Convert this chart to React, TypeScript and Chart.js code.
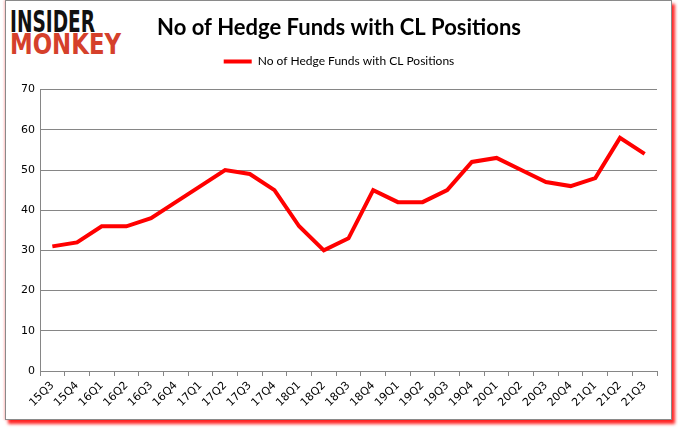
import React, { useEffect, useRef } from "react";
import { Chart, registerables } from "chart.js";

Chart.register(...registerables);

const categories = [
  "15Q3", "15Q4", "16Q1", "16Q2", "16Q3", "16Q4", "17Q1", "17Q2", "17Q3", "17Q4",
  "18Q1", "18Q2", "18Q3", "18Q4", "19Q1", "19Q2", "19Q3", "19Q4", "20Q1", "20Q2",
  "20Q3", "20Q4", "21Q1", "21Q2", "21Q3",
];
const hedgeFunds = [31, 32, 36, 36, 38, 42, 46, 50, 49, 45, 36, 30, 33, 45, 42, 42, 45, 52, 53, 50, 47, 46, 48, 58, 54];
const yTicks = [0, 10, 20, 30, 40, 50, 60, 70];
const seriesName = "No of Hedge Funds with CL Positions";
const titleText = "No of Hedge Funds with CL Positions";

export default function App() {
  const canvasRef = useRef<HTMLCanvasElement | null>(null);

  useEffect(() => {
    document.body.style.margin = "0";
    const ctx = canvasRef.current!.getContext("2d")!;
    const chart = new Chart(ctx, {
      type: "line",
      data: {
        labels: categories,
        datasets: [
          {
            label: seriesName,
            data: hedgeFunds,
            borderColor: "#ff0000",
            backgroundColor: "#ff0000",
            borderWidth: 4,
            pointRadius: 0,
            tension: 0,
            borderJoinStyle: "miter",
          },
        ],
      },
      options: {
        animation: false,
        responsive: false,
        devicePixelRatio: 1,
        layout: { padding: { left: 21, right: 21, top: 0, bottom: 0 } },
        plugins: {
          title: {
            display: true,
            text: titleText,
            color: "#000000",
            font: { family: "Lato", size: 22, weight: "bold" },
            padding: { top: 15, bottom: 6 },
          },
          subtitle: {
            display: true,
            text: " ",
            position: "top",
            weight: 500,
            font: { size: 1 },
            padding: { top: 11, bottom: 0 },
          } as any,
          legend: {
            display: true,
            labels: {
              usePointStyle: true,
              pointStyle: "line",
              pointStyleWidth: 28,
              color: "#000000",
              font: { family: "Lato", size: 12 },
              boxHeight: 12,
              padding: 8,
            },
          },
          tooltip: { enabled: false },
        },
        scales: {
          x: {
            offset: true,
            afterFit: (s: any) => {
              s.height = 60;
            },
            grid: {
              offset: true,
              drawOnChartArea: false,
              drawTicks: true,
              tickLength: 5,
              color: "#868686",
            },
            border: { color: "#868686", width: 1 },
            ticks: {
              color: "#000000",
              font: { family: "DejaVu Sans", size: 11 },
              minRotation: 45,
              maxRotation: 45,
              autoSkip: false,
              padding: 3,
            },
          },
          y: {
            min: 0,
            max: 70,
            afterFit: (s: any) => {
              s.width = 19;
            },
            afterBuildTicks: (s: any) => {
              s.ticks = yTicks.map((v) => ({ value: v }));
            },
            grid: {
              drawTicks: false,
              color: "#868686",
              lineWidth: 1,
            },
            border: { color: "#868686", width: 1 },
            ticks: {
              color: "#000000",
              font: { family: "DejaVu Sans", size: 11 },
              padding: 5,
            },
          },
        },
      },
    });
    return () => chart.destroy();
  }, []);

  return (
    <div style={{ position: "relative", width: 678, height: 431, background: "#ffffff", overflow: "hidden" }}>
      <div
        style={{
          position: "absolute",
          left: 5,
          top: 0,
          width: 665,
          height: 418,
          border: "1px solid #8a8a8a",
          boxShadow: "3px 4px 3px rgba(255,0,0,0.85), -1px 0 2px rgba(255,0,0,0.25)",
          background: "#ffffff",
        }}
      />
      <svg width={140} height={60} style={{ position: "absolute", left: 0, top: 0 }}>
        <text
          x={10}
          y={32}
          textLength={85}
          lengthAdjust="spacingAndGlyphs"
          style={{ fontFamily: "DejaVu Sans", fontWeight: 900, fontSize: 30, fill: "#111111" }}
        >
          INSIDER
        </text>
        <text
          x={10}
          y={54}
          textLength={111}
          lengthAdjust="spacingAndGlyphs"
          style={{ fontFamily: "DejaVu Sans", fontWeight: 900, fontSize: 28, fill: "#d5402b" }}
        >
          MONKEY
        </text>
      </svg>
      <canvas
        ref={canvasRef}
        width={678}
        height={431}
        style={{ position: "absolute", left: 0, top: 0, width: 678, height: 431 }}
      />
    </div>
  );
}
